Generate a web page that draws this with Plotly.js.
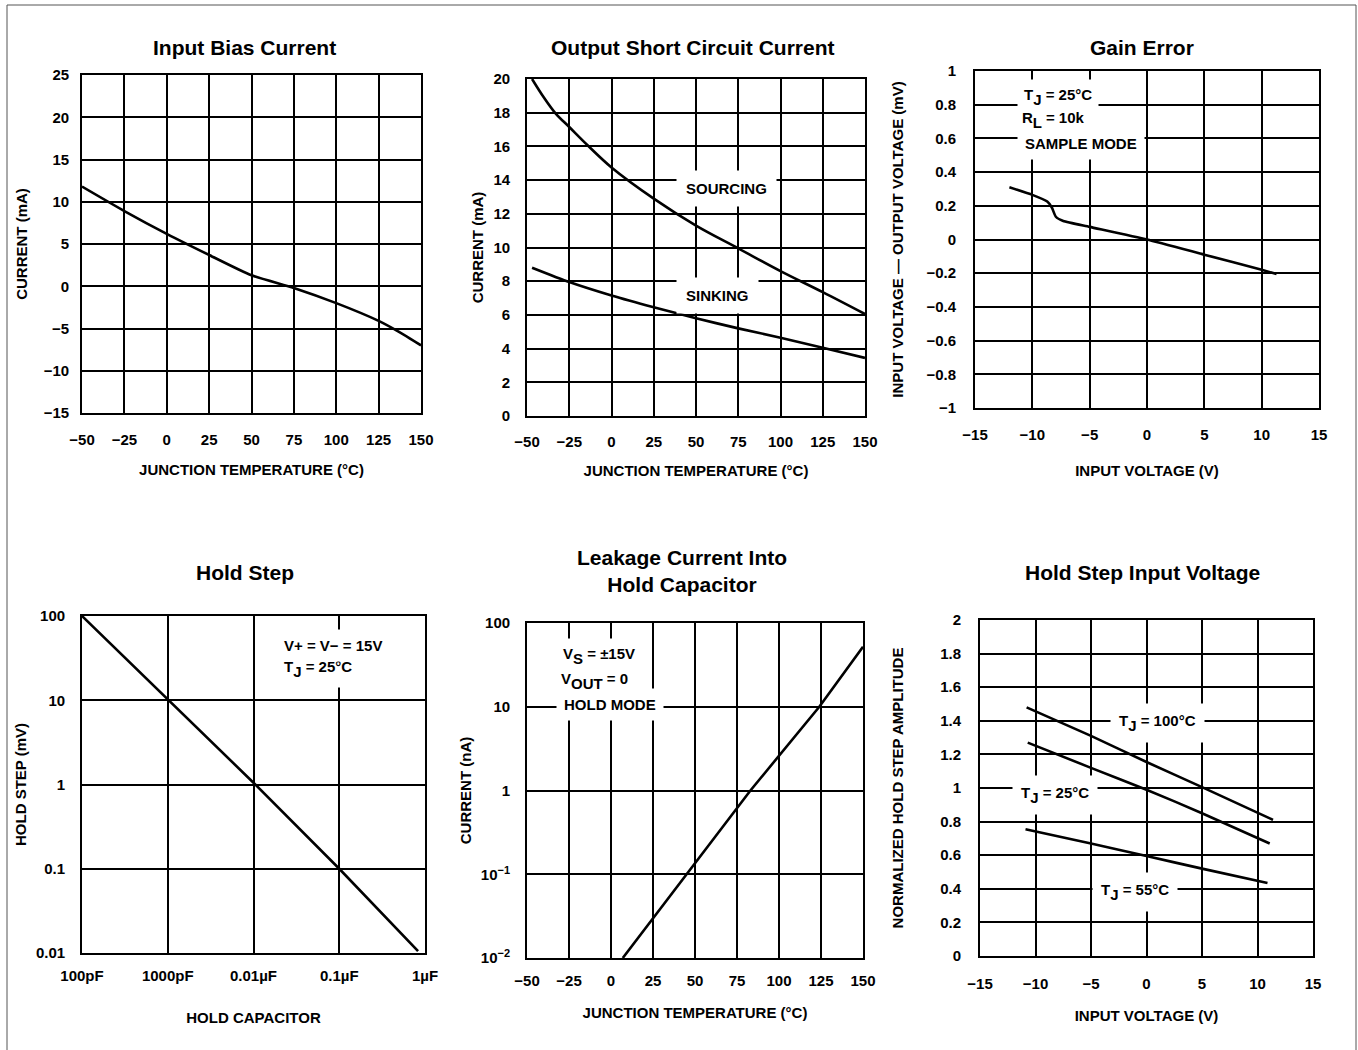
<!DOCTYPE html>
<html>
<head>
<meta charset="utf-8">
<script src="https://cdn.plot.ly/plotly-3.0.1.min.js"></script>
<style>html,body{margin:0;padding:0;background:#fff}#chart{width:1358px;height:1050px}</style>
</head>
<body>
<div id="chart"></div>
<script>
// ---------- DATA ----------
// Input Bias Current
const biasTemp = [-50, -25, 0, 25, 50, 75, 100, 125, 137, 150];
const biasCurrent = [11.8, 8.9, 6.2, 3.7, 1.3, -0.2, -2.0, -4.1, -5.4, -7.0];

// Output Short Circuit Current
const sourcingTemp = [-47, -40, -33, -25, -14, 0, 25, 50, 75, 100, 125, 150];
const sourcingCurrent = [20, 18.9, 17.95, 17.15, 16.05, 14.75, 12.9, 11.3, 9.95, 8.6, 7.35, 6.05];
const sinkingTemp = [-47, -25, 0, 25, 50, 75, 100, 125, 150];
const sinkingCurrent = [8.8, 7.95, 7.15, 6.45, 5.8, 5.2, 4.65, 4.05, 3.45];

// Gain Error
const gainVin = [-12, -10, -8.7, -8.3, -7.95, -7.3, -5, 0, 5, 10, 11.3];
const gainError = [0.31, 0.265, 0.225, 0.19, 0.135, 0.11, 0.075, 0.0, -0.09, -0.18, -0.205];

// Hold Step (capacitance in pF)
const holdCap = [100, 1000, 10000, 100000, 830000];
const holdStep = [100, 10.3, 1.05, 0.1, 0.0105];
const holdCapTicks = [100, 1000, 10000, 100000, 1000000];
const holdCapLabels = ['100pF', '1000pF', '0.01\u00b5F', '0.1\u00b5F', '1\u00b5F'];
const holdStepTicks = [0.01, 0.1, 1, 10, 100];
const holdStepLabels = ['0.01', '0.1', '1', '10', '100'];

// Leakage Current Into Hold Capacitor
const leakTemp = [7, 45, 83, 124, 150];
const leakCurrent = [0.01, 0.1, 1, 10, 52];
const leakTicks = [0.01, 0.1, 1, 10, 100];
const supStyle = 'baseline-shift:6px;font-size:11px';
const leakLabels = ['10<span style="' + supStyle + '">\u22122</span>', '10<span style="' + supStyle + '">\u22121</span>', '1', '10', '100'];

// Hold Step Input Voltage
const hsVin100 = [-10.8, -5, 0, 5, 11.4];
const hsAmp100 = [1.48, 1.31, 1.155, 1.005, 0.81];
const hsVin25 = [-10.7, -5, 0, 5, 11.1];
const hsAmp25 = [1.27, 1.12, 0.99, 0.85, 0.67];
const hsVin55 = [-10.9, -5, 0, 5, 10.9];
const hsAmp55 = [0.755, 0.67, 0.595, 0.52, 0.435];

// ---------- LAYOUT HELPERS ----------
const W = 1358, H = 1050;
const FONT = 'Liberation Sans, Arial, Helvetica, sans-serif';
const px = v => v / W;
const py = v => 1 - v / H;
const sub = t => '<span style="baseline-shift:-5px;font-size:15px">' + t + '</span>';

function axis(dom, extra) {
  return Object.assign({
    domain: dom,
    showgrid: true, gridcolor: '#000', gridwidth: 1.6,
    showline: true, mirror: true, linecolor: '#000', linewidth: 1.8,
    zeroline: false, ticks: '', fixedrange: true,
    tickfont: {family: FONT, size: 15, color: '#000', weight: 'bold'},
    automargin: false
  }, extra);
}
function xt(text, standoff) {
  return {text: text, standoff: standoff, font: {family: FONT, size: 15, color: '#000', weight: 'bold'}};
}

const lineStyle = {color: '#000', width: 2.6};
const smooth = s => Object.assign({shape: 'spline', smoothing: s}, lineStyle);

const traces = [
  {name: 'Input bias', x: biasTemp, y: biasCurrent, xaxis: 'x', yaxis: 'y', mode: 'lines', line: smooth(0.6)},
  {name: 'Sourcing', x: sourcingTemp, y: sourcingCurrent, xaxis: 'x2', yaxis: 'y2', mode: 'lines', line: smooth(1)},
  {name: 'Sinking', x: sinkingTemp, y: sinkingCurrent, xaxis: 'x2', yaxis: 'y2', mode: 'lines', line: smooth(0.6)},
  {name: 'Gain error', x: gainVin, y: gainError, xaxis: 'x3', yaxis: 'y3', mode: 'lines', line: smooth(0.5)},
  {name: 'Hold step', x: holdCap, y: holdStep, xaxis: 'x4', yaxis: 'y4', mode: 'lines', line: lineStyle},
  {name: 'Leakage', x: leakTemp, y: leakCurrent, xaxis: 'x5', yaxis: 'y5', mode: 'lines', line: lineStyle},
  {name: 'TJ 100', x: hsVin100, y: hsAmp100, xaxis: 'x6', yaxis: 'y6', mode: 'lines', line: smooth(0.5)},
  {name: 'TJ 25', x: hsVin25, y: hsAmp25, xaxis: 'x6', yaxis: 'y6', mode: 'lines', line: smooth(0.5)},
  {name: 'TJ 55', x: hsVin55, y: hsAmp55, xaxis: 'x6', yaxis: 'y6', mode: 'lines', line: smooth(0.5)}
];

const titleFont = {family: FONT, size: 21, color: '#000', weight: 'bold'};
const labelFont = {family: FONT, size: 15, color: '#000', weight: 'bold'};

function title(text, x, y) {
  return {text: text, x: px(x), y: py(y), xref: 'paper', yref: 'paper', showarrow: false,
          xanchor: 'center', yanchor: 'middle', font: titleFont};
}
function label(text, x, y, anchor, pad) {
  return {text: text, x: px(x), y: py(y), xref: 'paper', yref: 'paper', showarrow: false,
          xanchor: anchor || 'center', yanchor: 'middle', font: labelFont,
          bgcolor: '#fff', borderpad: pad === undefined ? 6 : pad};
}

const layout = {
  width: W, height: H,
  margin: {l: 0, r: 0, t: 0, b: 0},
  paper_bgcolor: '#fff', plot_bgcolor: '#fff',
  showlegend: false,
  font: {family: FONT, color: '#000', weight: 'bold'},

  xaxis: axis([px(82), px(421)], {anchor: 'y', range: [-50, 150], dtick: 25, tick0: -50, ticklabelstandoff: 12, title: xt('JUNCTION TEMPERATURE (\u00b0C)', 18)}),
  yaxis: axis([py(413), py(75)], {anchor: 'x', range: [-15, 25], dtick: 5, tick0: -15, ticklabelstandoff: 8, title: xt('CURRENT (mA)', 12)}),

  xaxis2: axis([px(527), px(865)], {anchor: 'y2', range: [-50, 150], dtick: 25, tick0: -50, ticklabelstandoff: 11, title: xt('JUNCTION TEMPERATURE (\u00b0C)', 17)}),
  yaxis2: axis([py(416), py(79)], {anchor: 'x2', range: [0, 20], dtick: 2, tick0: 0, ticklabelstandoff: 12, title: xt('CURRENT (mA)', 6)}),

  xaxis3: axis([px(975), px(1319)], {anchor: 'y3', range: [-15, 15], dtick: 5, tick0: -15, ticklabelstandoff: 12, title: xt('INPUT VOLTAGE (V)', 24)}),
  yaxis3: axis([py(408), py(71)], {anchor: 'x3', range: [-1, 1], dtick: 0.2, tick0: -1, ticklabelstandoff: 14, title: xt('INPUT VOLTAGE \u2014 OUTPUT VOLTAGE (mV)', 19)}),

  xaxis4: axis([px(82), px(425)], {anchor: 'y4', type: 'log', range: [2, 6], tickvals: holdCapTicks, ticktext: holdCapLabels, ticklabelstandoff: 8, title: xt('HOLD CAPACITOR', 30)}),
  yaxis4: axis([py(953), py(616)], {anchor: 'x4', type: 'log', range: [-2, 2], tickvals: holdStepTicks, ticktext: holdStepLabels, ticklabelstandoff: 12, title: xt('HOLD STEP (mV)', 6)}),

  xaxis5: axis([px(527), px(863)], {anchor: 'y5', range: [-50, 150], dtick: 25, tick0: -50, ticklabelstandoff: 8, title: xt('JUNCTION TEMPERATURE (\u00b0C)', 20)}),
  yaxis5: axis([py(958), py(623)], {anchor: 'x5', type: 'log', range: [-2, 2], tickvals: leakTicks, ticktext: leakLabels, ticklabelstandoff: 12, title: xt('CURRENT (nA)', 6)}),

  xaxis6: axis([px(980), px(1313)], {anchor: 'y6', range: [-15, 15], dtick: 5, tick0: -15, ticklabelstandoff: 13, title: xt('INPUT VOLTAGE (V)', 20)}),
  yaxis6: axis([py(956), py(620)], {anchor: 'x6', range: [0, 2], dtick: 0.2, tick0: 0, ticklabelstandoff: 14, title: xt('NORMALIZED HOLD STEP AMPLITUDE', 33)}),

  shapes: [
    {type: 'rect', xref: 'paper', yref: 'paper', x0: px(7), x1: px(1356), y0: -0.02, y1: py(5),
     line: {color: '#555', width: 1}, fillcolor: 'rgba(0,0,0,0)', layer: 'below'}
  ],

  annotations: [
    title('Input Bias Current', 244, 47),
    title('Output Short Circuit Current', 692, 47),
    title('Gain Error', 1142, 47),
    title('Hold Step', 245, 572),
    title('Leakage Current Into<br>Hold Capacitor', 682, 571),
    title('Hold Step Input Voltage', 1142, 572),

    label('SOURCING', 726, 189, 'center', 9),
    label('SINKING', 717, 295, 'center', 9),

    label('SAMPLE MODE', 1017, 144, 'left', 7),
    label('T' + sub('J') + ' = 25\u00b0C', 1017, 97, 'left', 6),
    label('R' + sub('L') + ' = 10k\u00a0\u00a0\u00a0', 1019, 120, 'left', 2),

    label('T' + sub('J') + ' = 25\u00b0C', 276, 669, 'left', 7),
    label('V+ = V\u2212 = 15V', 276, 645, 'left', 7),

    label('HOLD MODE', 556, 704, 'left', 7),
    label('V' + sub('OUT') + ' = 0', 556, 681, 'left', 4),
    label('V' + sub('S') + ' = \u00b115V', 556, 656, 'left', 6),

    label('T' + sub('J') + ' = 100\u00b0C', 1157, 723, 'center', 8),
    label('T' + sub('J') + ' = 25\u00b0C', 1055, 795, 'center', 8),
    label('T' + sub('J') + ' = 55\u00b0C', 1135, 892, 'center', 8)
  ]
};

Plotly.newPlot('chart', traces, layout, {displayModeBar: false});
</script>
</body>
</html>
